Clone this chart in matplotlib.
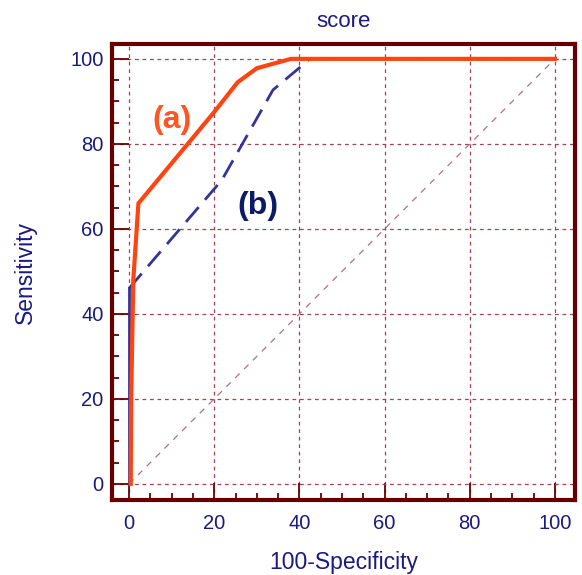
import matplotlib
matplotlib.use("Agg")
import matplotlib.pyplot as plt
from matplotlib.ticker import MultipleLocator

# Data
a_x = [0.4, 0.5, 1.0, 2.2, 20, 25.5, 30, 38, 100]
a_y = [0, 20, 48, 66, 87.5, 94.5, 97.8, 100, 100]
b_x = [0, 0, 21.8, 33.8, 42.5, 100]
b_y = [0, 46, 71.5, 92.7, 100, 100]
ref_x = [0, 100]
ref_y = [0, 100]
ticks = [0, 20, 40, 60, 80, 100]

plt.rcParams['font.family'] = ['Liberation Sans', 'DejaVu Sans']
navy = '#1a1a80'
maroon = '#660000'

fig = plt.figure(figsize=(5.82, 5.75), dpi=100)
W, H = 582, 575
ax = fig.add_axes([112 / W, 1 - 500 / H, (575 - 112) / W, (500 - 44) / H])

ax.set_xlim(-4.0, 104.7)
ax.set_ylim(-3.8, 103.5)

ax.plot(ref_x, ref_y, color='#b07080', lw=0.9, ls=(0, (5, 5)), zorder=2)
# vertical start of (b) is drawn solid, the rest dashed
ax.plot(b_x[:2], b_y[:2], color='#333399', lw=2.0, zorder=3)
ax.plot(b_x[1:], b_y[1:], color='#333399', lw=2.0, ls=(0, (7, 3.5)), zorder=3)
ax.plot(a_x, a_y, color='#ff4411', lw=3.0, zorder=4, solid_joinstyle='miter')

ax.text(10, 85.6, '(a)', color='#ff5522', fontsize=23, fontweight='bold',
        ha='center', va='center')
ax.text(30.3, 65.4, '(b)', color='#0d1a66', fontsize=23, fontweight='bold',
        ha='center', va='center')

ax.set_xticks(ticks)
ax.set_yticks(ticks)
ax.xaxis.set_minor_locator(MultipleLocator(5))
ax.yaxis.set_minor_locator(MultipleLocator(5))
ax.tick_params(which='major', direction='in', length=12, width=1.3,
               color=maroon, labelcolor=navy, labelsize=14.5,
               top=False, right=False)
ax.tick_params(axis='x', which='major', pad=10)
ax.tick_params(axis='y', which='major', pad=6)
ax.tick_params(which='minor', direction='in', length=5, width=1.3,
               color=maroon, top=False, right=False)

ax.grid(True, which='major', color='#a04455', lw=0.9, ls=(0, (3, 3)))

for s in ax.spines.values():
    s.set_color(maroon)
    s.set_linewidth(3)

ax.set_xlabel('100-Specificity', color=navy, fontsize=16.5, labelpad=13)
ax.set_ylabel('Sensitivity', color=navy, fontsize=16.5, labelpad=24)
ax.set_title('score', color=navy, fontsize=16, pad=12)

fig.savefig('out.png', dpi=100)
